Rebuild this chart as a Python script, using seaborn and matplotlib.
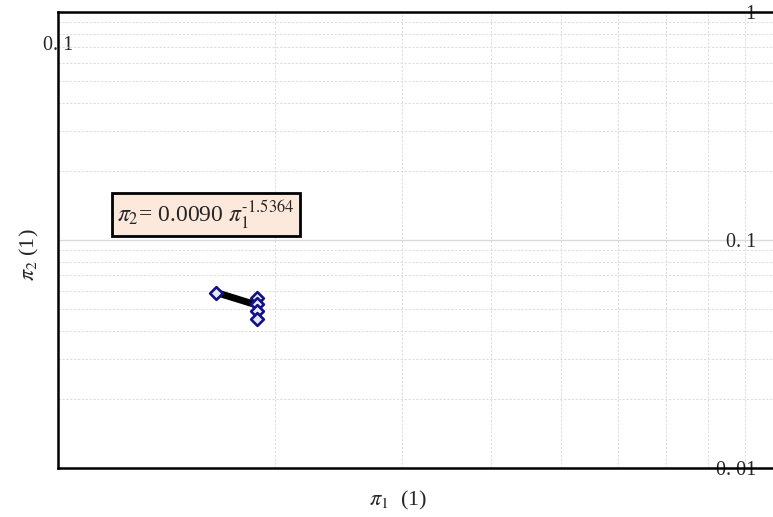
import numpy as np
import pandas as pd
import seaborn as sns
import matplotlib
matplotlib.use("Agg")
from matplotlib import pyplot as plt
from matplotlib.ticker import LogLocator, NullFormatter

# 資料
pi1_obs = [0.166, 0.189, 0.189, 0.189, 0.189]
pi2_obs = [0.0586, 0.0557, 0.0524, 0.0489, 0.0451]
pi1_fit = [0.166, 0.189]
pi2_fit = [0.0588, 0.0518]
eq_text = r"$\pi_2$= 0.0090 $\pi_1^{\text{-1.5364}}$"
y_ticks = [0.01, 0.1, 1]
y_ticklabels = ["0. 01", "0. 1", "1"]
x_ticks = [0.1]
x_ticklabels = ["0. 1"]

sns.set_style("white")
plt.rcParams["font.family"] = ["Liberation Serif", "DejaVu Serif"]
plt.rcParams["mathtext.fontset"] = "stix"

fig = plt.figure(figsize=(7.73, 5.17), dpi=100)
# 右邊界超出畫布一點 (x=1 在畫布外)
ax = fig.add_axes([58 / 773, 49 / 517, 720 / 773, 456 / 517])

obs = pd.DataFrame({"pi1": pi1_obs, "pi2": pi2_obs})
fit = pd.DataFrame({"pi1": pi1_fit, "pi2": pi2_fit})

sns.lineplot(data=fit, x="pi1", y="pi2", color="black", linewidth=5, ax=ax, zorder=3)
sns.scatterplot(data=obs, x="pi1", y="pi2", marker="D", s=42, facecolor="#e8e8ee",
                edgecolor="#10108a", linewidth=1.9, ax=ax, zorder=4)

ax.set_xscale("log")
ax.set_yscale("log")
ax.set_xlim(0.1, 1.0)
ax.set_ylim(0.01, 1)

# 格線
ax.yaxis.set_minor_locator(LogLocator(base=10, subs=np.arange(2, 10)))
ax.xaxis.set_minor_locator(LogLocator(base=10, subs=np.arange(2, 10)))
ax.yaxis.set_minor_formatter(NullFormatter())
ax.xaxis.set_minor_formatter(NullFormatter())
ax.grid(which="minor", linestyle=(0, (2, 1.5)), color="#dedede", linewidth=0.8)
ax.grid(which="major", axis="y", linestyle="-", color="#dadada", linewidth=1.0)

# y 刻度標籤在右側內部
ax.set_yticks(y_ticks)
ax.set_yticklabels(y_ticklabels, fontsize=14.5)
ax.yaxis.tick_right()
ax.tick_params(axis="y", which="both", length=0, pad=-16)
for t in ax.get_yticklabels():
    t.set_horizontalalignment("right")

# x 刻度標籤 (左上角)
ax.set_xticks(x_ticks)
ax.set_xticklabels(x_ticklabels, fontsize=14.5)
ax.xaxis.tick_top()
ax.tick_params(axis="x", which="both", length=0, pad=-31)
ax.xaxis.set_label_position("bottom")

ax.set_xlabel(r"$\pi_1$  (1)", fontsize=16)
ax.set_ylabel(r"$\pi_2$ (1)", fontsize=16)
ax.yaxis.set_label_position("left")
ax.xaxis.set_label_coords(0.472, -0.045)
ax.yaxis.set_label_coords(-0.024, 0.467)

for side in ["top", "left", "bottom"]:
    ax.spines[side].set_color("black")
    ax.spines[side].set_linewidth(1.8)
ax.spines["right"].set_visible(False)

ax.text(0.082, 0.54, eq_text, transform=ax.transAxes, fontsize=17,
        bbox=dict(boxstyle="square,pad=0.22", facecolor="#fde9dc", edgecolor="black", linewidth=2))

fig.savefig("out.png", dpi=100)
